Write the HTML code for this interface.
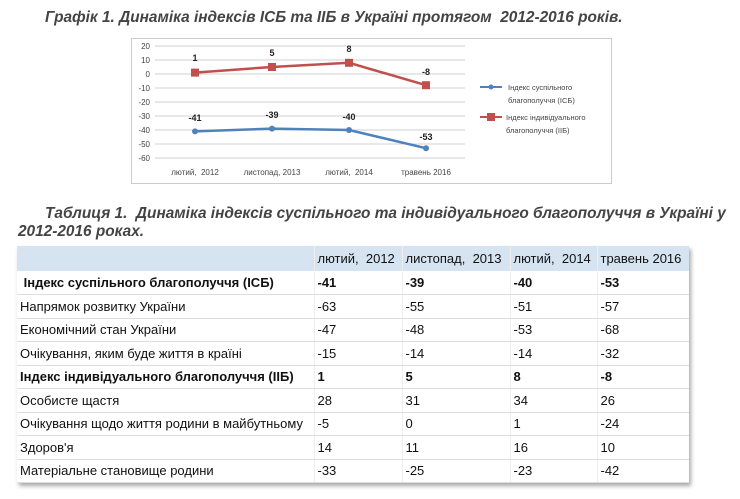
<!DOCTYPE html>
<html><head><meta charset="utf-8"><style>
body{margin:0;width:740px;height:499px;background:#fff;position:relative;font-family:"Liberation Sans",sans-serif;overflow:hidden}
.t{position:absolute;font-weight:bold;font-style:italic;color:#444;font-size:15.4px;white-space:nowrap}
table{position:absolute;left:17px;top:246px;border-collapse:collapse;font-size:13px;color:#111;box-shadow:2px 3px 4px #aaa}
td{height:23.5px;padding:0 0 0 3px;border-bottom:1px solid #ddd;white-space:nowrap;box-sizing:border-box}
tr.h td{background:#d6e4f1;height:25px;border-bottom:1px solid #fff}
tr td:nth-child(n+2){border-left:1px solid #eee}
.b td{font-weight:bold}
</style></head><body>
<div class="t" style="left:45px;top:9px">Графік 1. Динаміка індексів ІСБ та ІІБ в Україні протягом &nbsp;2012-2016 років.</div>
<svg style="position:absolute;left:0;top:0" width="740" height="200" font-family="Liberation Sans,sans-serif">
<rect x="131.5" y="38.5" width="480" height="145" fill="#fff" stroke="#ccc"/>
<g stroke="#d0d0d0">
<line x1="155" x2="465" y1="46" y2="46"/><line x1="155" x2="465" y1="60" y2="60"/><line x1="155" x2="465" y1="74" y2="74"/><line x1="155" x2="465" y1="88" y2="88"/><line x1="155" x2="465" y1="102" y2="102"/><line x1="155" x2="465" y1="116" y2="116"/><line x1="155" x2="465" y1="130" y2="130"/><line x1="155" x2="465" y1="144" y2="144"/><line x1="155" x2="465" y1="158" y2="158"/>
</g>
<g font-size="8" fill="#444" text-anchor="end">
<text x="150" y="49">20</text><text x="150" y="63">10</text><text x="150" y="77">0</text><text x="150" y="91">-10</text><text x="150" y="105">-20</text><text x="150" y="119">-30</text><text x="150" y="133">-40</text><text x="150" y="147">-50</text><text x="150" y="161">-60</text>
</g>
<g font-size="8" fill="#444" text-anchor="middle">
<text x="195" y="175">лютий, &nbsp;2012</text><text x="272" y="175">листопад, 2013</text><text x="349" y="175">лютий, &nbsp;2014</text><text x="426" y="175">травень 2016</text>
</g>
<polyline points="195,72.6 272,67 349,62.8 426,85.2" fill="none" stroke="#c0504d" stroke-width="2.5"/>
<g fill="#c0504d"><rect x="191" y="68.6" width="8" height="8"/><rect x="268" y="63" width="8" height="8"/><rect x="345" y="58.8" width="8" height="8"/><rect x="422" y="81.2" width="8" height="8"/></g>
<polyline points="195,131.4 272,128.6 349,130 426,148.2" fill="none" stroke="#4f81bd" stroke-width="2.5"/>
<g fill="#4f81bd"><circle cx="195" cy="131.4" r="3"/><circle cx="272" cy="128.6" r="3"/><circle cx="349" cy="130" r="3"/><circle cx="426" cy="148.2" r="3"/></g>
<g font-size="9" font-weight="bold" fill="#222" text-anchor="middle">
<text x="195" y="61">1</text><text x="272" y="56">5</text><text x="349" y="52">8</text><text x="426" y="75">-8</text>
<text x="195" y="121">-41</text><text x="272" y="118">-39</text><text x="349" y="120">-40</text><text x="426" y="140">-53</text>
</g>
<line x1="480" x2="502" y1="87" y2="87" stroke="#4f81bd" stroke-width="2"/><circle cx="491" cy="87" r="2.5" fill="#4f81bd"/>
<line x1="480" x2="502" y1="117" y2="117" stroke="#c0504d" stroke-width="2"/><rect x="487" y="113" width="8" height="8" fill="#c0504d"/>
<g font-size="7.5" fill="#444"><text x="508" y="90">Індекс суспільного</text><text x="508" y="103">благополуччя (ІСБ)</text><text x="506" y="120">Індекс індивідуального</text><text x="506" y="133">благополуччя (ІІБ)</text></g>
</svg>
<div class="t" style="left:45px;top:205px">Таблиця 1. &nbsp;Динаміка індексів суспільного та індивідуального благополуччя в Україні у</div>
<div class="t" style="left:18px;top:223px">2012-2016 роках.</div>
<table>
<colgroup><col style="width:297px"><col style="width:88px"><col style="width:108px"><col style="width:87px"><col style="width:92px"></colgroup>
<tr class="h"><td></td><td>лютий, &nbsp;2012</td><td>листопад, &nbsp;2013</td><td>лютий, &nbsp;2014</td><td>травень 2016</td></tr>
<tr class="b"><td>&nbsp;Індекс суспільного благополуччя (ІСБ)</td><td>-41</td><td>-39</td><td>-40</td><td>-53</td></tr>
<tr><td>Напрямок розвитку України</td><td>-63</td><td>-55</td><td>-51</td><td>-57</td></tr>
<tr><td>Економічний стан України</td><td>-47</td><td>-48</td><td>-53</td><td>-68</td></tr>
<tr><td>Очікування, яким буде життя в країні</td><td>-15</td><td>-14</td><td>-14</td><td>-32</td></tr>
<tr class="b"><td>Індекс індивідуального благополуччя (ІІБ)</td><td>1</td><td>5</td><td>8</td><td>-8</td></tr>
<tr><td>Особисте щастя</td><td>28</td><td>31</td><td>34</td><td>26</td></tr>
<tr><td>Очікування щодо життя родини в майбутньому</td><td>-5</td><td>0</td><td>1</td><td>-24</td></tr>
<tr><td>Здоров'я</td><td>14</td><td>11</td><td>16</td><td>10</td></tr>
<tr><td>Матеріальне становище родини</td><td>-33</td><td>-25</td><td>-23</td><td>-42</td></tr>
</table>
</body></html>
